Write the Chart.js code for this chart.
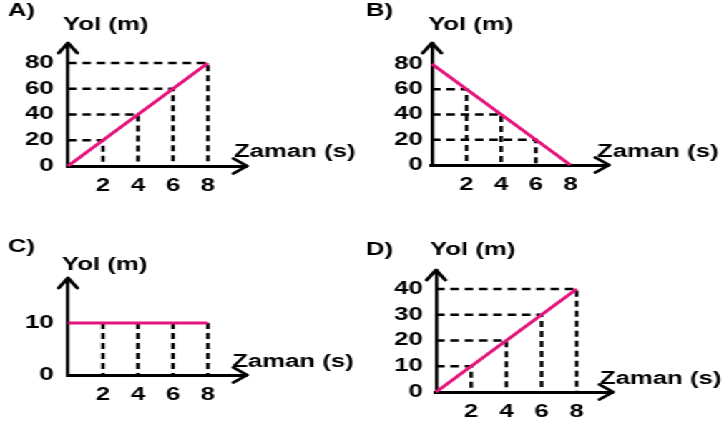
<!DOCTYPE html>
<html>
<head>
<meta charset="utf-8">
<script src="https://cdn.jsdelivr.net/npm/chart.js@4.4.1/dist/chart.umd.min.js"></script>
<style>
  html, body { margin: 0; padding: 0; background: #fff; }
  #page {
    position: absolute; left: 0; top: 0;
    width: 506px; height: 425px;
    transform: scaleX(1.4308); transform-origin: 0 0;
  }
  #page canvas { position: absolute; left: 0; top: 0; }
</style>
</head>
<body>
<div id="page">
  <canvas id="chartA" width="506" height="425"></canvas>
  <canvas id="chartB" width="506" height="425"></canvas>
  <canvas id="chartC" width="506" height="425"></canvas>
  <canvas id="chartD" width="506" height="425"></canvas>
</div>
<script>
const times = [0, 2, 4, 6, 8];
const valuesA = [0, 20, 40, 60, 80];
const valuesB = [80, 60, 40, 20, 0];
const valuesC = [10, 10, 10, 10, 10];
const valuesD = [0, 10, 20, 30, 40];

const xTicks = [2, 4, 6, 8];
const yTicksA = [0, 20, 40, 60, 80];
const yTicksB = [0, 20, 40, 60, 80];
const yTicksC = [0, 10];
const yTicksD = [0, 10, 20, 30, 40];

const letters = ["A)", "B)", "C)", "D)"];
const yCaption = "Yol (m)";
const xCaption = "Zaman (s)";

// the original picture is stretched sideways, so everything is drawn narrow and scaled
const W = 506;
const H = 425;
const S = 724 / W;
const Y_W = 30;
const X_H = 25;
const FONT = "'Liberation Sans', Arial, sans-serif";
const PINK = "#e4147c";

// positions below are in picture pixels
const panels = [
  { id: "chartA", values: valuesA, yTicks: yTicksA, letter: letters[0], hGuides: true,
    area: { l: 68, r: 247, t: 43, b: 166 }, xMax: 10.23, yMax: 95.5, gap: 10,
    letterPos: [8, 16], yCapPos: [63, 30], xCapPos: [234, 157] },
  { id: "chartB", values: valuesB, yTicks: yTicksB, letter: letters[1], hGuides: true,
    area: { l: 432, r: 609, t: 43, b: 165 }, xMax: 10.23, yMax: 96.6, gap: 6.5,
    letterPos: [366, 16], yCapPos: [428, 30], xCapPos: [597, 157] },
  { id: "chartC", values: valuesC, yTicks: yTicksC, letter: letters[2], hGuides: false,
    area: { l: 68, r: 247, t: 278, b: 375 }, xMax: 10.23, yMax: 18.65, gap: 10,
    letterPos: [8, 252], yCapPos: [62, 270], xCapPos: [232, 367] },
  { id: "chartD", values: valuesD, yTicks: yTicksD, letter: letters[3], hGuides: true,
    area: { l: 436, r: 613, t: 270, b: 392 }, xMax: 10.06, yMax: 47.4, gap: 9.3,
    letterPos: [366, 255], yCapPos: [430, 255], xCapPos: [600, 384] }
];

const decor = {
  id: "decor",
  afterDraw(chart, args, opts) {
    const { ctx, chartArea: a } = chart;
    ctx.save();
    ctx.strokeStyle = "#000";
    ctx.lineWidth = 2.8;
    ctx.lineCap = "round";
    ctx.lineJoin = "round";
    ctx.beginPath();
    ctx.moveTo(a.left - 6.5, a.top + 10);
    ctx.lineTo(a.left, a.top);
    ctx.lineTo(a.left + 6.5, a.top + 10);
    ctx.moveTo(a.right - 9.5, a.bottom - 7.5);
    ctx.lineTo(a.right, a.bottom);
    ctx.lineTo(a.right - 9.5, a.bottom + 7.5);
    ctx.stroke();

    ctx.fillStyle = "#000";
    ctx.font = "bold 18px " + FONT;
    ctx.textAlign = "left";
    ctx.textBaseline = "alphabetic";
    ctx.fillText(opts.letter, opts.letterPos[0] / S, opts.letterPos[1]);
    ctx.fillText(yCaption, opts.yCapPos[0] / S, opts.yCapPos[1]);
    ctx.fillText(xCaption, opts.xCapPos[0] / S, opts.xCapPos[1]);
    ctx.restore();
  }
};

function guideSets(values, withH) {
  return times
    .map((t, i) => [t, values[i]])
    .filter(([t, v]) => t > 0 && v > 0)
    .map(([t, v]) => ({
      data: withH ? [{ x: 0, y: v }, { x: t, y: v }, { x: t, y: 0 }] : [{ x: t, y: v }, { x: t, y: 0 }],
      borderColor: "#000",
      borderWidth: 2.5,
      borderDash: [6, 4],
      pointRadius: 0,
      clip: false
    }));
}

function tickFont() {
  return { family: FONT, size: 18, weight: "bold" };
}

function makeChart(p) {
  const line = {
    data: times.map((t, i) => ({ x: t, y: p.values[i] })),
    borderColor: PINK,
    borderWidth: 2.8,
    pointRadius: 0,
    clip: false
  };

  return new Chart(document.getElementById(p.id), {
    type: "line",
    data: { datasets: [line, ...guideSets(p.values, p.hGuides)] },
    options: {
      responsive: false,
      animation: false,
      devicePixelRatio: 1,
      layout: {
        padding: {
          left: p.area.l / S - Y_W,
          right: W - p.area.r / S,
          top: p.area.t,
          bottom: H - p.area.b - X_H
        }
      },
      plugins: {
        legend: { display: false },
        tooltip: { enabled: false },
        decor: { letter: p.letter, letterPos: p.letterPos, yCapPos: p.yCapPos, xCapPos: p.xCapPos }
      },
      scales: {
        x: {
          type: "linear",
          min: 0,
          max: p.xMax,
          grid: { display: false, drawTicks: false },
          border: { display: true, color: "#000", width: 3 },
          ticks: { autoSkip: false, maxRotation: 0, padding: 9, color: "#000", font: tickFont() },
          afterBuildTicks: s => { s.ticks = xTicks.map(v => ({ value: v })); },
          afterFit: s => { s.height = X_H; }
        },
        y: {
          min: 0,
          max: p.yMax,
          grid: { display: false, drawTicks: false },
          border: { display: true, color: "#000", width: 2.4 },
          ticks: { autoSkip: false, padding: p.gap, color: "#000", font: tickFont() },
          afterBuildTicks: s => { s.ticks = p.yTicks.map(v => ({ value: v })); },
          afterFit: s => { s.width = Y_W; }
        }
      }
    },
    plugins: [decor]
  });
}

panels.forEach(makeChart);
</script>
</body>
</html>
